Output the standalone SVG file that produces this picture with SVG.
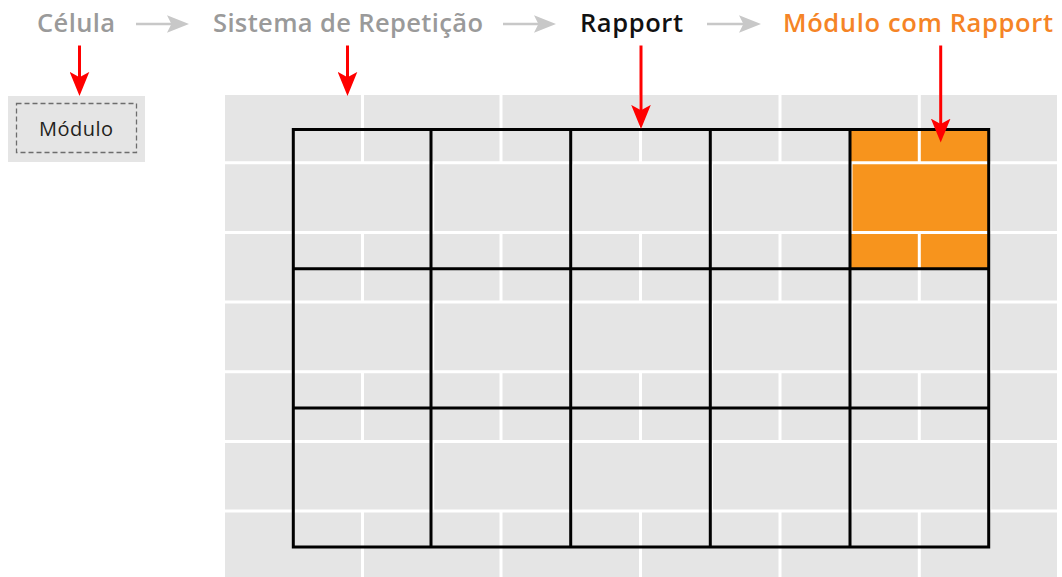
<svg xmlns="http://www.w3.org/2000/svg" width="1062" height="577" viewBox="0 0 1062 577">
  <style>
    .title { font-family: "Open Sans", "Liberation Sans", sans-serif; font-size: 25.5px; font-weight: 600; }
    .gray { fill: #9a9a9a; }
    .black { fill: #111111; }
    .orange { fill: #F58426; }
    .gap { stroke: #ffffff; stroke-width: 3; fill: none; }
    .grid { stroke: #000000; stroke-width: 3; fill: none; }
    .red { stroke: #ff0000; stroke-width: 3; fill: none; }
    .flow { stroke: #c8c8c8; stroke-width: 2.5; fill: none; }
    .modtext { font-family: "Open Sans", "Liberation Sans", sans-serif; font-size: 20px; fill: #231f20; }
  </style>
  <defs>
    <marker id="redhead" markerUnits="userSpaceOnUse" markerWidth="24" markerHeight="20" viewBox="0 0 22 18" refX="12" refY="9" orient="auto">
      <path d="M0,0 L22,9 L0,18 L5,9 Z" fill="#ff0000"/>
    </marker>
    <marker id="grayhead" markerUnits="userSpaceOnUse" markerWidth="22" markerHeight="18" viewBox="0 0 20 16" refX="10" refY="8" orient="auto">
      <path d="M0,0 L20,8 L0,16 L4,8 Z" fill="#c8c8c8"/>
    </marker>
  </defs>

  <!-- Title labels -->
  <g id="celula"><text class="title gray" x="37" y="32" textLength="78">Célula</text></g>
  <g id="sistema"><text class="title gray" x="213" y="32" textLength="270">Sistema de Repetição</text></g>
  <g id="rapport"><text class="title black" x="580" y="32" textLength="103">Rapport</text></g>
  <g id="modulo-rapport"><text class="title orange" x="783" y="32" textLength="270">Módulo com Rapport</text></g>

  <!-- Módulo cell -->
  <g id="modulo">
    <rect x="8" y="96" width="137" height="66" fill="#e5e5e5"/>
    <rect x="16.5" y="103.5" width="120" height="49" fill="none" stroke="#6d6d6d" stroke-width="1.3" stroke-dasharray="5 3"/>
    <text class="modtext" x="39" y="136" textLength="74">Módulo</text>
  </g>

  <!-- Brick pattern (repetition system) -->
  <g id="pattern">
    <rect x="225" y="95" width="832" height="482" fill="#e5e5e5"/>
    <rect x="850" y="129.5" width="138.7" height="139.2" fill="#F7941D"/>
    <g class="gap">
      <path d="M225,162.7H1057 M225,232.5H1057 M225,302H1057 M225,371.7H1057 M225,441.5H1057 M225,511H1057"/>
      <path d="M362.5,95V162.7 M501,95V162.7 M640.5,95V162.7 M780,95V162.7 M919.3,95V162.7"/>
      <path d="M362.5,232.5V302 M501,232.5V302 M640.5,232.5V302 M780,232.5V302 M919.3,232.5V302"/>
      <path d="M362.5,371.7V441.5 M501,371.7V441.5 M640.5,371.7V441.5 M780,371.7V441.5 M919.3,371.7V441.5"/>
      <path d="M362.5,511V577 M501,511V577 M640.5,511V577 M780,511V577 M919.3,511V577"/>
      <path stroke-width="2" d="M433.2,162.7V232.5 M572.2,162.7V232.5 M711.8,162.7V232.5 M851.5,162.7V232.5 M990.2,162.7V232.5"/>
      <path stroke-width="2" d="M433.2,302V371.7 M572.2,302V371.7 M711.8,302V371.7 M851.5,302V371.7 M990.2,302V371.7"/>
      <path stroke-width="2" d="M433.2,441.5V511 M572.2,441.5V511 M711.8,441.5V511 M851.5,441.5V511 M990.2,441.5V511"/>
    </g>
  </g>

  <!-- Rapport grid -->
  <g id="rapport-grid" class="grid">
    <rect x="293.3" y="129.5" width="695.4" height="417.5"/>
    <path d="M431,129.5V547 M570.7,129.5V547 M710.3,129.5V547 M850,129.5V547"/>
    <path d="M293.3,268.7H988.7 M293.3,408H988.7"/>
  </g>

  <!-- Connectors -->
  <g id="connectors">
    <line class="flow" x1="136" y1="24" x2="178" y2="24" marker-end="url(#grayhead)"/>
    <line class="flow" x1="503" y1="24" x2="545" y2="24" marker-end="url(#grayhead)"/>
    <line class="flow" x1="707" y1="24" x2="750" y2="24" marker-end="url(#grayhead)"/>
    <line class="red" x1="79.5" y1="45.5" x2="79.5" y2="85" marker-end="url(#redhead)"/>
    <line class="red" x1="347.5" y1="45.5" x2="347.5" y2="85" marker-end="url(#redhead)"/>
    <line class="red" x1="641" y1="45.5" x2="641" y2="118" marker-end="url(#redhead)"/>
    <line class="red" x1="940.7" y1="45.5" x2="940.7" y2="131.7" marker-end="url(#redhead)"/>
  </g>
</svg>
